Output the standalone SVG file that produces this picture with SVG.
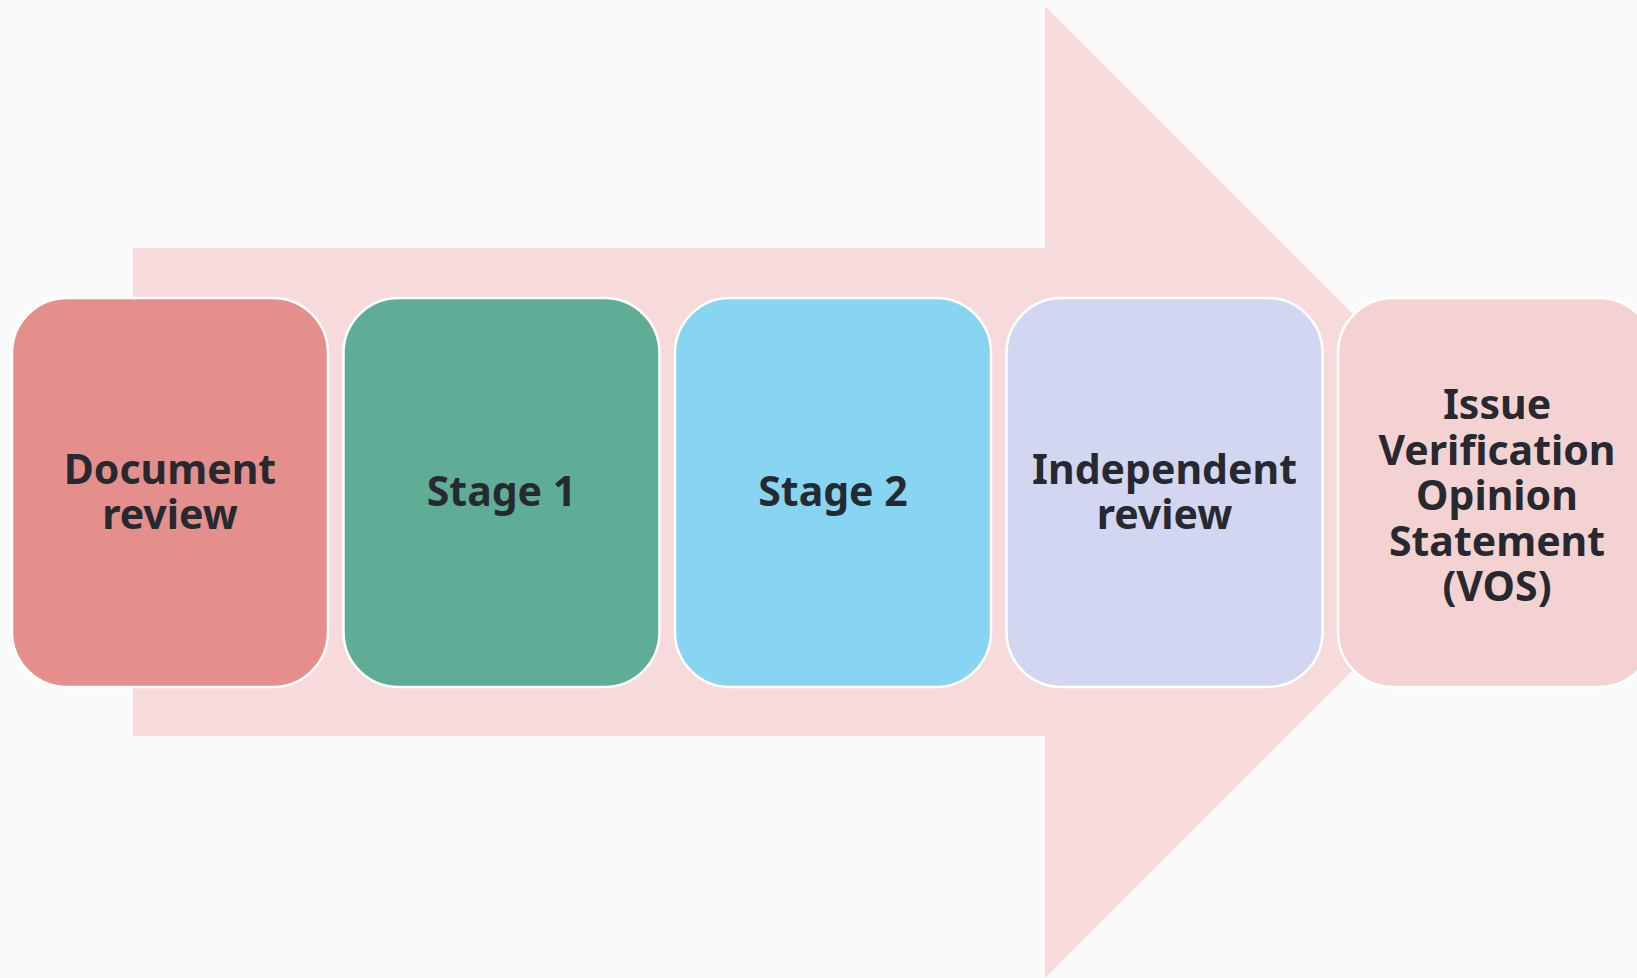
<svg xmlns="http://www.w3.org/2000/svg" width="1637" height="978" viewBox="0 0 1637 978">
  <style>
    .box { stroke: #ffffff; stroke-width: 2.5; }
    .label { font-family: "Noto Sans", "Open Sans", "DejaVu Sans", sans-serif; font-weight: 700; font-size: 41px; fill: #262930; text-anchor: middle; }
  </style>
  <rect x="0" y="0" width="1637" height="978" fill="#fafafa"/>

  <!-- background process arrow -->
  <g id="arrow">
    <polygon points="133,248 1045,248 1045,6 1531,492 1045,978 1045,736 133,736" fill="#f7dbdc"/>
  </g>

  <g id="connectors"></g>

  <g id="document-review">
    <rect class="box" x="12" y="298" width="316" height="389" rx="55" ry="55" fill="#e48f8b"/>
    <text class="label" x="170" y="484">Document</text>
    <text class="label" x="170" y="529">review</text>
  </g>

  <g id="stage-1">
    <rect class="box" x="343.5" y="298" width="316" height="389" rx="55" ry="55" fill="#5fad96"/>
    <text class="label" x="501.5" y="506">Stage 1</text>
  </g>

  <g id="stage-2">
    <rect class="box" x="675" y="298" width="316" height="389" rx="55" ry="55" fill="#87d5f0"/>
    <text class="label" x="833" y="506">Stage 2</text>
  </g>

  <g id="independent-review">
    <rect class="box" x="1006.5" y="298" width="316" height="389" rx="55" ry="55" fill="#d3d6f0"/>
    <text class="label" x="1164.5" y="484">Independent</text>
    <text class="label" x="1164.5" y="529">review</text>
  </g>

  <g id="issue-vos">
    <rect class="box" x="1338" y="298" width="316" height="389" rx="55" ry="55" fill="#f5d2d2"/>
    <text class="label" x="1497" y="419">Issue</text>
    <text class="label" x="1497" y="464.5">Verification</text>
    <text class="label" x="1497" y="510">Opinion</text>
    <text class="label" x="1497" y="555.5">Statement</text>
    <text class="label" x="1497" y="601">(VOS)</text>
  </g>
</svg>
